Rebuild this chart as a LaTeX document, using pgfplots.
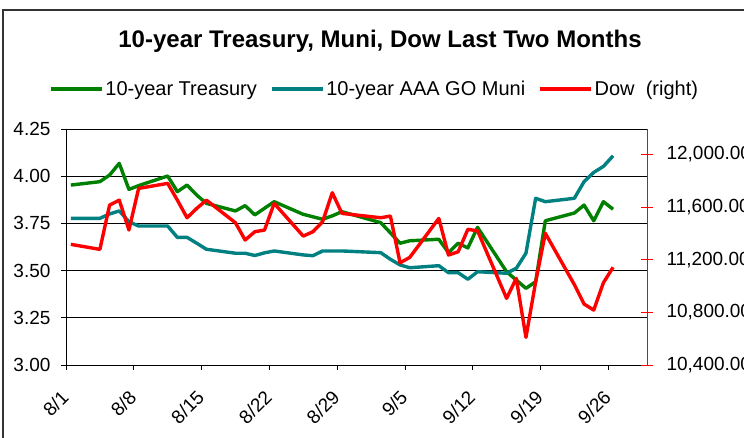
\documentclass[border=0pt]{standalone}
\usepackage{pgfplots}
\pgfplotsset{compat=1.18}
\usepackage{pgfplotstable}
\usepackage{fontspec}
\setmainfont{Liberation Sans}
\definecolor{tgreen}{RGB}{0,128,0}
\definecolor{mteal}{RGB}{0,128,128}
\definecolor{dred}{RGB}{255,0,0}

% x = day since 8/1 (+0.5), t = 10-year Treasury, m = 10-year AAA GO Muni, d = Dow
\pgfplotstableread{
x    t     m     d
0.5  3.953 3.777 11316
3.5  3.971 3.777 11278
4.5  4.006 3.800 11614
5.5  4.068 3.816 11652
6.5  3.930 3.759 11425
7.5  3.950 3.736 11741
10.5 4.001 3.736 11779
11.5 3.918 3.676 11652
12.5 3.953 3.676 11518
13.5 3.900 3.645 11589
14.5 3.856 3.613 11652
17.5 3.816 3.592 11480
18.5 3.844 3.592 11349
19.5 3.795 3.580 11412
20.5 3.830 3.594 11425
21.5 3.865 3.604 11627
24.5 3.798 3.583 11379
25.5 3.785 3.579 11412
26.5 3.772 3.604 11488
27.5 3.790 3.604 11708
28.5 3.812 3.604 11551
32.5 3.754 3.595 11518
33.5 3.700 3.560 11531
34.5 3.645 3.530 11176
35.5 3.658 3.515 11217
38.5 3.666 3.526 11513
39.5 3.595 3.489 11235
40.5 3.645 3.489 11260
41.5 3.620 3.454 11430
42.5 3.729 3.494 11419
45.5 3.494 3.486 10906
46.5 3.450 3.512 11058
47.5 3.406 3.592 10610
48.5 3.441 3.883 11030
49.5 3.764 3.865 11400
52.5 3.805 3.883 11010
53.5 3.847 3.971 10863
54.5 3.764 4.020 10817
55.5 3.865 4.052 11025
56.5 3.825 4.108 11142
}\data

\begin{document}
\begin{tikzpicture}
\useasboundingbox (0,0) rectangle (744pt,-438pt);
\clip (0,0) rectangle (744pt,-438pt);
\fill[white] (0,0) rectangle (744pt,-438pt);
\draw[line width=1.6pt, black!80] (3pt,-460pt) -- (3pt,-10pt) -- (770pt,-10pt);
\node[font=\fontsize{24}{28}\selectfont\bfseries] at (380pt,-41pt) {10-year Treasury, Muni, Dow Last Two Months};

\begin{axis}[
  scale only axis, width=581pt, height=236pt,
  at={(66pt,-365pt)}, anchor=south west,
  xmin=0, xmax=60, ymin=3, ymax=4.25,
  axis lines*=left,
  axis line style={black, line width=1pt},
  xtick={0,7,14,21,28,35,42,49,56},
  xticklabels={8/1,8/8,8/15,8/22,8/29,9/5,9/12,9/19,9/26},
  ytick={3,3.25,3.5,3.75,4,4.25},
  ymajorgrids, grid style={black, line width=0.8pt},
  tick align=outside, major tick length=5pt,
  tick style={black, line width=0.8pt},
  tick label style={font=\fontsize{19}{22}\selectfont},
  /pgf/number format/assume math mode=true,
  /pgf/number format/fixed,
  /pgf/number format/fixed zerofill,
  /pgf/number format/precision=2,
  yticklabel style={xshift=-7pt},
  xticklabel style={xshift=-6pt, yshift=-19pt, rotate=45, anchor=north east, inner sep=0pt},
  legend columns=3,
  legend style={draw=none, fill=none, at={(0.5310,1.17)}, anchor=center,
    font=\fontsize{20}{23}\selectfont,
    /tikz/every even column/.append style={column sep=11pt}},
  legend image code/.code={\draw[#1] (0pt,0pt) -- (51pt,0pt);},
]
\addplot[tgreen, line width=3.4pt, line join=round] table[x=x,y=t]{\data};
\addlegendentry{10-year Treasury}
\addplot[mteal, line width=3.4pt, line join=round] table[x=x,y=m]{\data};
\addlegendentry{10-year AAA GO Muni}
\addlegendimage{dred, line width=3.4pt}
\addlegendentry{Dow\ \ (right)}
\end{axis}

\begin{axis}[
  scale only axis, width=581pt, height=236pt,
  at={(66pt,-365pt)}, anchor=south west,
  xmin=0, xmax=60, ymin=10400, ymax=12192,
  axis x line=none, axis y line*=right,
  y axis line style={dred, line width=1pt},
  ytick={10400,10800,11200,11600,12000},
  ytick style={dred, line width=0.8pt},
  tick align=center, major tick length=12pt,
  tick label style={font=\fontsize{19}{22}\selectfont},
  yticklabel style={xshift=10pt},
  /pgf/number format/assume math mode=true,
  /pgf/number format/fixed,
  /pgf/number format/fixed zerofill,
  /pgf/number format/precision=2,
  /pgf/number format/1000 sep={,},
  scaled y ticks=false,
]
\addplot[dred, line width=3.4pt, line join=round] table[x=x,y=d]{\data};
\end{axis}
\end{tikzpicture}
\end{document}
